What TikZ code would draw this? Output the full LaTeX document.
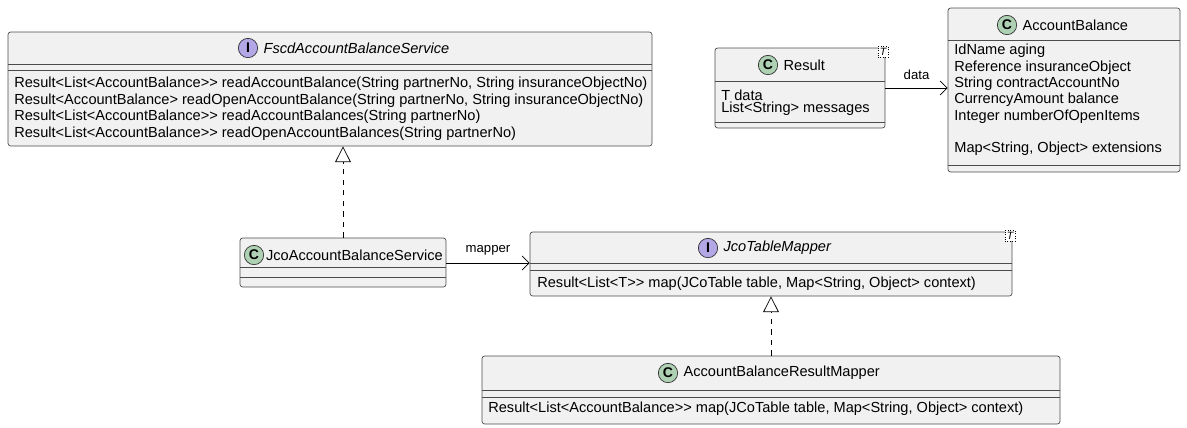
\documentclass[tikz,border=0pt]{standalone}
\usepackage{fontspec}
\setmainfont{Liberation Sans}
\usetikzlibrary{arrows.meta,fit,positioning}
\definecolor{boxfill}{HTML}{F1F1F1}
\definecolor{classc}{HTML}{ADD1B2}
\definecolor{ifacec}{HTML}{B4A7E5}
\tikzset{
  box/.style={draw=black!70,fill=boxfill,rounded corners=1.5pt,inner sep=0pt},
  icon/.style={circle,draw=black!80,inner sep=0pt,minimum size=11pt,font=\fontsize{8}{9}\selectfont\bfseries},
  member/.style={anchor=west,inner sep=0pt},
  tparam/.style={draw,densely dotted,fill=white,inner sep=1pt,font=\fontsize{6}{7}\selectfont\itshape},
  real/.style={dashed,-{Triangle[open,length=9pt,width=9pt]}},
  assoc/.style={-{Straight Barb[length=4pt]}}
}
\begin{document}
\begin{tikzpicture}[x=0.02cm,y=-0.02cm,font=\fontsize{8.3}{9}\selectfont]
        \useasboundingbox (0,0) rectangle (1187,427);
        % FscdAccountBalanceService
        \node[box,fit={(8,32)(652,146)}] (fscd) {};
        \draw[black!70] (8,64) -- (652,64) (8,70) -- (652,70);
        \node[icon,fill=ifacec] (fscdI) at (248,48) {I};
        \node[right=3pt of fscdI,inner sep=0pt,font=\fontsize{8.3}{9}\selectfont\itshape] (fscdT) {FscdAccountBalanceService};
        \node[member] at (14,84) {Result<List<AccountBalance>{}> readAccountBalance(String partnerNo, String insuranceObjectNo)};
        \node[member] at (14,101) {Result<AccountBalance> readOpenAccountBalance(String partnerNo, String insuranceObjectNo)};
        \node[member] at (14,117) {Result<List<AccountBalance>{}> readAccountBalances(String partnerNo)};
        \node[member] at (14,134) {Result<List<AccountBalance>{}> readOpenAccountBalances(String partnerNo)};
        % Result
        \node[box,fit={(715,48)(885,128)}] (result) {};
        \draw[black!70] (715,81) -- (885,81) (715,122) -- (885,122);
        \node[icon,fill=classc] (resultC) at (768,65) {C};
        \node[right=3pt of resultC,inner sep=0pt] {Result};
        \node[member] at (721,95) {T data};
        \node[member] at (721,109) {List<String> messages};
        \node[tparam] (resultT) at (883,52) {T};
        % AccountBalance
        \node[box,fit={(948,8)(1180,172)}] (balance) {};
        \draw[black!70] (948,40) -- (1180,40) (948,165) -- (1180,165);
        \node[icon,fill=classc] (balanceC) at (1007,25) {C};
        \node[right=3pt of balanceC,inner sep=0pt] {AccountBalance};
        \node[member] at (954,51) {IdName aging};
        \node[member] at (954,68) {Reference insuranceObject};
        \node[member] at (954,84) {String contractAccountNo};
        \node[member] at (954,100) {CurrencyAmount balance};
        \node[member] at (954,117) {Integer numberOfOpenItems};
        \node[member] at (954,149) {Map<String, Object> extensions};
        % JcoAccountBalanceService
        \node[box,fit={(240,238)(446,287)}] (jco) {};
        \draw[black!70] (240,267) -- (446,267) (240,277) -- (446,277);
        \node[icon,fill=classc] (jcoC) at (254,255) {C};
        \node[right=1pt of jcoC,inner sep=0pt] {JcoAccountBalanceService};
        % JcoTableMapper
        \node[box,fit={(530,232)(1012,296)}] (mapper) {};
        \draw[black!70] (530,263) -- (1012,263) (530,270) -- (1012,270);
        \node[icon,fill=ifacec] (mapperI) at (708,248) {I};
        \node[right=3pt of mapperI,inner sep=0pt,font=\fontsize{8.3}{9}\selectfont\itshape] {JcoTableMapper};
        \node[member] at (537,284) {Result<List<T>{}> map(JCoTable table, Map<String, Object> context)};
        \node[tparam] (mapperT) at (1010,236) {T};
        % AccountBalanceResultMapper
        \node[box,fit={(482,356)(1060,424)}] (resmap) {};
        \draw[black!70] (482,390) -- (1060,390) (482,397) -- (1060,397);
        \node[icon,fill=classc] (resmapC) at (668,373) {C};
        \node[right=3pt of resmapC,inner sep=0pt] {AccountBalanceResultMapper};
        \node[member] at (488,409) {Result<List<AccountBalance>{}> map(JCoTable table, Map<String, Object> context)};
        % relations
        \draw[real] (jco.north -| 343,0) -- (fscd.south -| 343,0);
        \draw[real] (resmap.north -| 771,0) -- (mapper.south -| 771,0);
        \draw[assoc] (result.east |- 0,88) -- node[above=1pt,font=\fontsize{7.5}{8}\selectfont] {data} (balance.west |- 0,88);
        \draw[assoc] (jco.east |- 0,263) -- node[above=1pt,font=\fontsize{7.5}{8}\selectfont] {mapper} (mapper.west |- 0,263);
\end{tikzpicture}
\end{document}
